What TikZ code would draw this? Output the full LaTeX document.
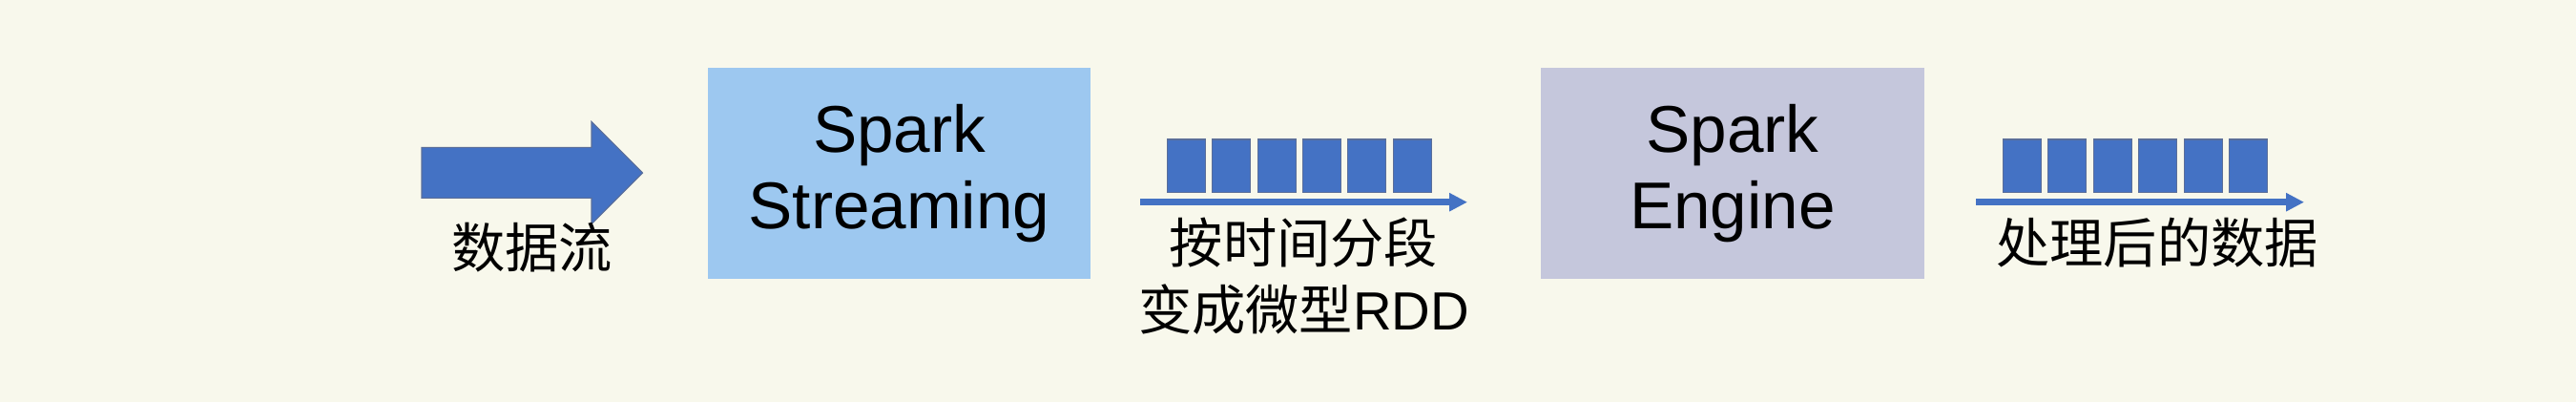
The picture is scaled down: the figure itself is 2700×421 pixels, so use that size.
\documentclass[tikz,border=0pt]{standalone}
\usepackage{fontspec}
\setmainfont{Liberation Sans}
\newfontfamily\cjk{Noto Sans CJK SC}
\usetikzlibrary{arrows.meta}
\definecolor{bg}{HTML}{F8F8EC}
\definecolor{flowblue}{HTML}{4472C4}
\definecolor{flowedge}{HTML}{5A6E9A}
\definecolor{streamfill}{HTML}{9DC8F0}
\definecolor{enginefill}{HTML}{C5C7DC}
\begin{document}
\begin{tikzpicture}[x=0.01cm,y=-0.01cm,
  bigbox/.style={rectangle, inner sep=0pt, minimum width=4.01cm, minimum height=2.21cm,
    align=center, font=\fontsize{19.7pt}{22.8pt}\selectfont},
  lab/.style={inner sep=0pt, anchor=base, font=\fontsize{16pt}{19.9pt}\selectfont},
  seg/.style={rectangle, inner sep=0pt, minimum width=0.40cm, minimum height=0.557cm,
    fill=flowblue, draw=flowedge, line width=0.3pt},
  flow/.style={draw=flowblue, line width=1.9pt, -{Triangle[length=5.4pt,width=5.2pt]}}]
\fill[bg] (0,0) rectangle (2700,421);
\useasboundingbox (0,0) rectangle (2700,421);
% input arrow
\fill[flowblue, draw=flowedge, line width=0.3pt]
  (442,154.3) -- (620,154.3) -- (620,127.3) -- (673.5,181) -- (620,234.7)
  -- (620,207.3) -- (442,207.3) -- cycle;
\node[lab, font=\fontsize{16pt}{19.9pt}\selectfont\cjk] (src) at (557.7,280) {数据流};
% boxes
\node[bigbox, fill=streamfill] (stream) at (942.5,181.2) {Spark\\Streaming};
\node[bigbox, fill=enginefill] (engine) at (1816,181.2) {Spark\\Engine};
% micro batches
\foreach \i in {0,...,5} {
  \node[seg] (a\i) at (1243.3+\i*47.4,173.85) {};
  \node[seg] (b\i) at (2119.5+\i*47.4,173.85) {};
}
\coordinate (f1s) at (1195,211.7);
\coordinate (f1e) at (1538,211.7);
\coordinate (f2s) at (2071,211.7);
\coordinate (f2e) at (2415,211.7);
\draw[flow] (f1s) -- (f1e);
\draw[flow] (f2s) -- (f2e);
\node[lab] (cut1) at (1366.5,275) {\cjk 按时间分段};
\node[lab] (cut2) at (1366.5,345) {{\cjk 变成微型}RDD};
\node[lab] (out) at (2261,275.5) {\cjk 处理后的数据};
\end{tikzpicture}
\end{document}
